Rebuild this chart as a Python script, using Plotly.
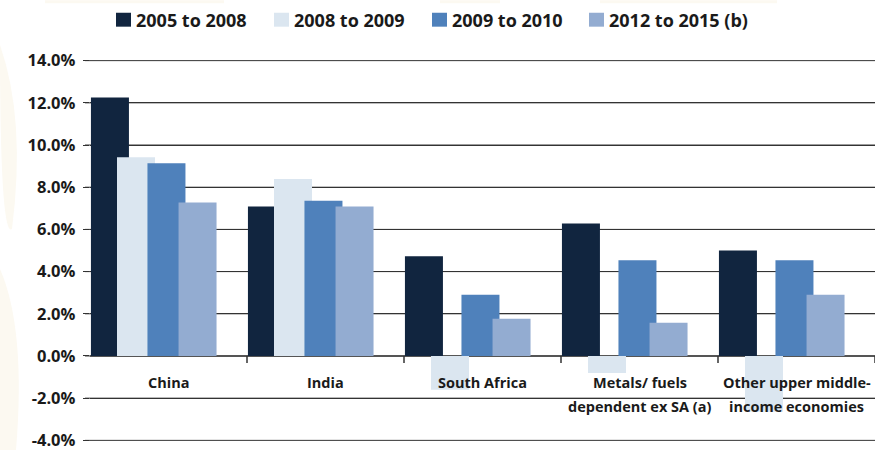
import plotly.graph_objects as go

# ---- data ----
categories = ["China", "India", "South Africa", "Metals/ fuels dependent ex SA (a)",
              "Other upper middle-income economies"]
label_line1 = ["China", "India", "South Africa", "Metals/ fuels", "Other upper middle-"]
label_line2 = ["", "", "", "dependent ex SA (a)", "income economies"]
series_names = ["2005 to 2008", "2008 to 2009", "2009 to 2010", "2012 to 2015 (b)"]
s_2005_2008 = [12.25, 7.08, 4.73, 6.28, 5.00]
s_2008_2009 = [9.42, 8.39, -1.60, -0.81, -2.64]
s_2009_2010 = [9.14, 7.36, 2.90, 4.54, 4.54]
s_2012_2015 = [7.27, 7.08, 1.77, 1.58, 2.90]
y_ticks = [-4, -2, 0, 2, 4, 6, 8, 10, 12, 14]

# ---- styles ----
colors = ["#11253f", "#dbe6f0", "#4f81bb", "#93acd1"]
offsets = [-0.494, -0.328, -0.134, 0.064]
bar_width = 0.242
FONT = "Open Sans"
TXT = "#1a1a1a"
GRID = "#333333"

W, H = 876, 452
ML, MR, MT, MB = 90, 1, 60, 9
PW, PH = W - ML - MR, H - MT - MB


def px_x(px):
    return (px - ML) / PW


def px_y(py):
    return (H - MB - py) / PH


fig = go.Figure()
all_series = [s_2005_2008, s_2008_2009, s_2009_2010, s_2012_2015]
for name, vals, col, off in zip(series_names, all_series, colors, offsets):
    fig.add_trace(go.Bar(
        x=categories, y=vals, name=name,
        marker=dict(color=col, line=dict(width=0)),
        width=bar_width, offset=off, showlegend=False,
        hovertemplate="%{x}: %{y:.1f}%<extra>" + name + "</extra>",
    ))

# horizontal gridlines at every y tick (extending a little left, like tick marks)
for v in y_ticks:
    fig.add_shape(type="line", xref="paper", yref="y", x0=px_x(85), x1=1, y0=v, y1=v,
                  line=dict(color=GRID, width=1), layer="below")

# category labels (two lines, spaced like the original)
for cat, l1, l2 in zip(categories, label_line1, label_line2):
    fig.add_annotation(x=cat, y=0, xref="x", yref="y", text=l1, showarrow=False,
                       yanchor="middle", yshift=-27,
                       font=dict(family=FONT, size=14.5, color=TXT, weight="bold"))
    if l2:
        fig.add_annotation(x=cat, y=0, xref="x", yref="y", text=l2, showarrow=False,
                           yanchor="middle", yshift=-51,
                           font=dict(family=FONT, size=14.5, color=TXT, weight="bold"))

# category boundary ticks hanging below the zero line
for i in range(1, len(categories) + 1):
    fig.add_shape(type="line", xref="x", yref="y", x0=i - 0.5, x1=i - 0.5,
                  ysizemode="pixel", yanchor=0, y0=0, y1=-7,
                  line=dict(color=GRID, width=1.5), layer="above")

# custom legend at the top
legend_sq_x = [116, 274, 432, 589]
legend_txt_x = [134, 292, 450, 607]
for name, col, sx, tx in zip(series_names, colors, legend_sq_x, legend_txt_x):
    fig.add_shape(type="rect", xref="paper", yref="paper",
                  x0=px_x(sx), x1=px_x(sx + 15), y0=px_y(26.5), y1=px_y(12.5),
                  fillcolor=col, line=dict(width=0), layer="above")
    fig.add_annotation(x=px_x(tx), y=px_y(19.5), xref="paper", yref="paper",
                       text=name, showarrow=False, xanchor="left", yanchor="middle",
                       font=dict(family=FONT, size=18, color=TXT, weight="bold"))

# faint background artefacts of the original scan (outside the plot area)
beige = "#fcf9f1"
for x0, x1 in [(45, 224), (440, 500), (600, 777)]:
    fig.add_shape(type="rect", xref="paper", yref="paper", x0=px_x(x0), x1=px_x(x1),
                  y0=px_y(3), y1=px_y(0), fillcolor=beige, line=dict(width=0), layer="above")
fig.add_shape(type="path", xref="paper", yref="paper", layer="above",
              path="M {},{} Q {},{} {},{} Q {},{} {},{} Z".format(
                  px_x(0), px_y(45), px_x(26), px_y(120), px_x(12), px_y(230),
                  px_x(0), px_y(240), px_x(0), px_y(45)),
              fillcolor=beige, line=dict(width=0))
fig.add_shape(type="path", xref="paper", yref="paper", layer="above",
              path="M {},{} Q {},{} {},{} L {},{} Z".format(
                  px_x(0), px_y(270), px_x(26), px_y(330), px_x(16), px_y(452),
                  px_x(0), px_y(452)),
              fillcolor=beige, line=dict(width=0))

fig.update_layout(
    width=W, height=H,
    margin=dict(l=ML, r=MR, t=MT, b=MB, pad=0),
    barmode="overlay",
    plot_bgcolor="white", paper_bgcolor="white",
    font=dict(family=FONT, color=TXT),
    showlegend=False,
    xaxis=dict(
        type="category", range=[-0.5, 4.5],
        showgrid=False, zeroline=False, showline=False,
        showticklabels=False, ticks="",
    ),
    yaxis=dict(
        range=[-4.03, 14.03], tickvals=y_ticks,
        ticktext=[f"{v:.1f}%\u00a0" for v in y_ticks],
        showgrid=True, gridcolor=GRID, gridwidth=1,
        zeroline=True, zerolinecolor="#555555", zerolinewidth=1.5,
        showline=False, ticks="outside", ticklen=6, tickcolor=GRID,
        ticklabeloverflow="allow",
        tickfont=dict(family=FONT, size=16.5, color=TXT, weight="bold"),
    ),
)

fig.write_html("out.html")
